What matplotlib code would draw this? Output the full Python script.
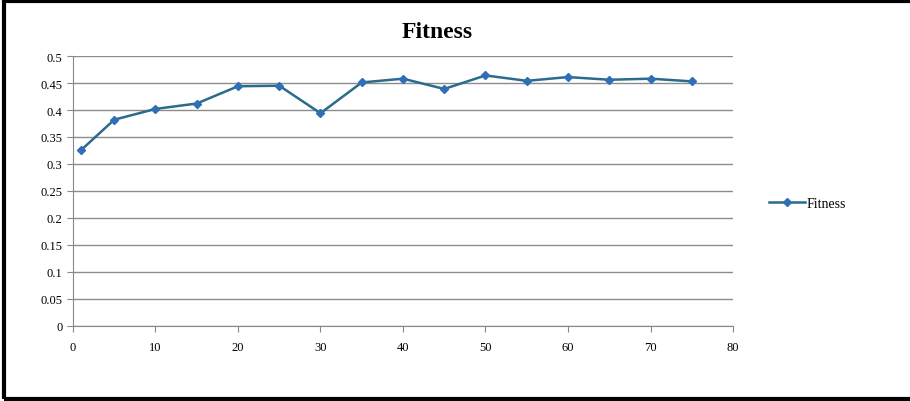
import matplotlib
matplotlib.use("Agg")
from matplotlib import pyplot as plt
from matplotlib.patches import Rectangle

# data
gen = [1, 5, 10, 15, 20, 25, 30, 35, 40, 45, 50, 55, 60, 65, 70, 75]
fitness = [0.326, 0.382, 0.402, 0.412, 0.444, 0.445, 0.394, 0.451,
           0.458, 0.439, 0.464, 0.454, 0.461, 0.456, 0.458, 0.453]
xticks = [0, 10, 20, 30, 40, 50, 60, 70, 80]
yticks = [0, 0.05, 0.1, 0.15, 0.2, 0.25, 0.3, 0.35, 0.4, 0.45, 0.5]
ytick_labels = ['0', '0.05', '0.1', '0.15', '0.2', '0.25', '0.3', '0.35', '0.4', '0.45', '0.5']

plt.rcParams['font.family'] = ['Liberation Serif', 'DejaVu Serif']

fig = plt.figure(figsize=(9.1, 4.02), dpi=100)
ax = fig.add_axes([0.0802, 0.1866, 0.7253, 0.6716])

ax.plot(gen, fitness, color='#2b6b8c', linewidth=1.8, marker='D', markersize=4.5,
        markerfacecolor='#2e6fb8', markeredgecolor='#2e6fb8', label='Fitness')

ax.set_xlim(0, 80)
ax.set_ylim(0, 0.5)
ax.set_xticks(xticks)
ax.set_yticks(yticks)
ax.set_yticklabels(ytick_labels)
ax.tick_params(axis='both', labelsize=9, color='#888888', length=4, direction='out')
ax.tick_params(axis='x', pad=7)
ax.yaxis.grid(True, color='#8c8c8c', linewidth=1)
ax.set_axisbelow(True)
for s in ['top', 'right']:
    ax.spines[s].set_visible(False)
ax.spines['left'].set_color('#888888')
ax.spines['bottom'].set_color('#888888')

fig.text(0.48, 0.918, 'Fitness', ha='center', va='center', fontsize=17, fontweight='bold')

ax.legend(loc='center left', bbox_to_anchor=(1.035, 0.455), frameon=False, fontsize=10,
          handlelength=2.6, handletextpad=0.1)

# outer frame of the chart image
fig.patches.append(Rectangle((0.004, 0.004), 1.2, 0.992, transform=fig.transFigure,
                             fill=False, edgecolor='black', linewidth=3))

fig.savefig('out.png', dpi=100)
